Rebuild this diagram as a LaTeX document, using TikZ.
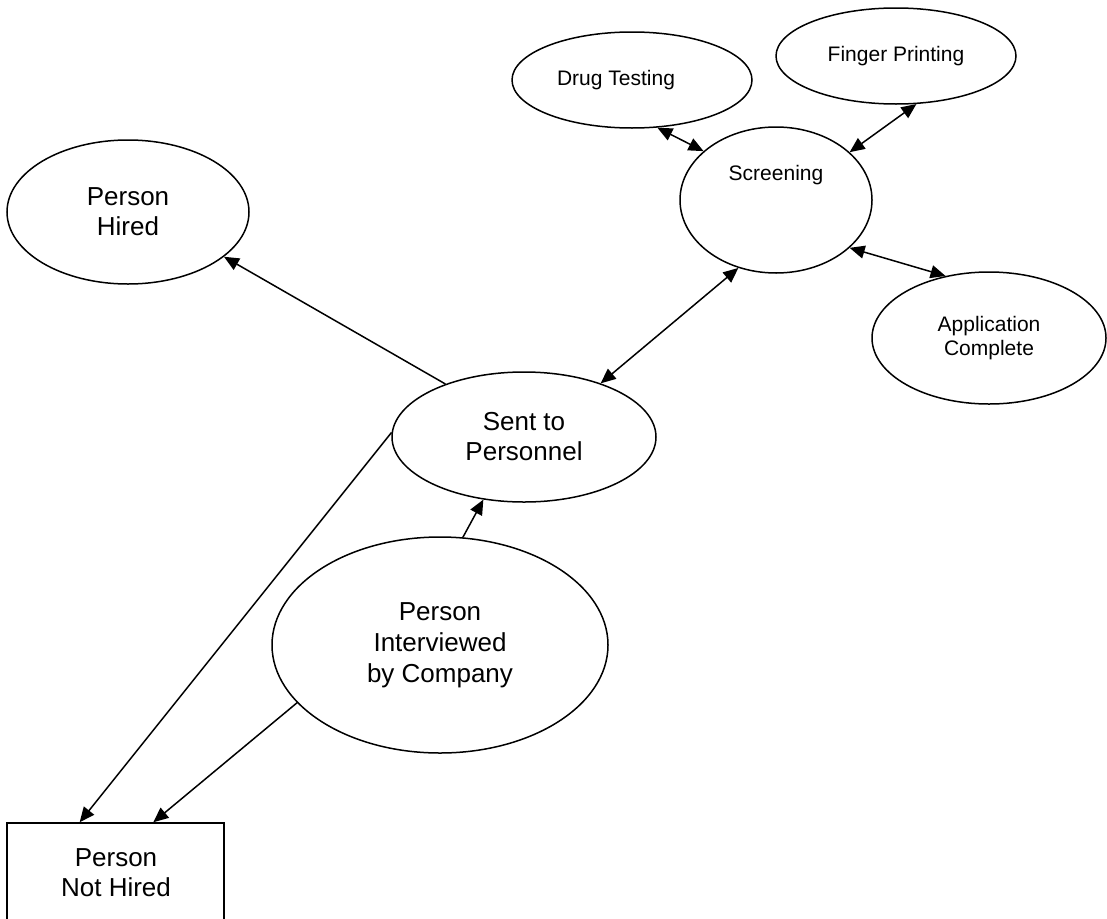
\documentclass[tikz,border=0pt]{standalone}
\usepackage{fontspec}
\setmainfont{Liberation Sans}
\usetikzlibrary{shapes.geometric,arrows.meta,calc}
\begin{document}
\begin{tikzpicture}[x=1pt,y=-1pt,
  oval/.style={draw, ellipse, line width=1.5pt, inner sep=0pt, align=center},
  boxed/.style={draw, rectangle, line width=1.5pt, inner sep=0pt},
  txt/.style={inner sep=0pt, align=center},
  big/.style={font=\fontsize{26}{30}\selectfont},
  small/.style={font=\fontsize{21}{24}\selectfont},
  conn/.style={line width=1.5pt, -{Triangle[length=15pt,width=13pt]}},
  bi/.style={line width=1.5pt, {Triangle[length=15pt,width=13pt]}-{Triangle[length=15pt,width=13pt]}},
]
\useasboundingbox (0,0) rectangle (1107,918);
\clip (0,0) rectangle (1107,918);

% nodes
\node[oval,big,minimum width=242pt,minimum height=144pt] (hired) at (128,212) {Person\\Hired};
\node[oval,minimum width=240pt,minimum height=96pt] (drug) at (632,80) {};
\node[txt,small] (drugt) at (616,80) {Drug Testing};
\node[oval,small,minimum width=240pt,minimum height=96pt] (finger) at (896,56) {Finger Printing};
\node[oval,minimum width=192pt,minimum height=146pt] (screen) at (776,200) {};
\node[txt,small] (screent) at (776,175) {Screening};
\node[oval,small,minimum width=234pt,minimum height=132pt] (app) at (989,338) {Application\\Complete};
\node[oval,big,minimum width=264pt,minimum height=130pt] (sent) at (524,437) {Sent to\\Personnel};
\node[oval,font=\fontsize{26}{31}\selectfont,minimum width=336pt,minimum height=216pt] (interv) at (440,645) {Person\\Interviewed\\by Company};
\node[boxed,minimum width=217pt,minimum height=137pt] (nothired) at (115.5,891.5) {};
\node[txt,big] (nothiredt) at (116,873) {Person\\Not Hired};

% connectors
\draw[conn] (sent.146.8) -- (hired.-25.4);
\draw[bi] (sent.35.4) -- (screen.241.7);
\draw[bi] (drug.-62.5) -- (screen.146.7);
\draw[bi] (finger.-67.2) -- (screen.33.7);
\draw[bi] (screen.-33.7) -- (app.125.9);
\draw[conn] (interv.78) -- (sent.237.5);
\draw[conn] (sent.178) -- ($(nothired.north west)!0.336!(nothired.north east)$);
\draw[conn] (interv.202.1) -- ($(nothired.north west)!0.673!(nothired.north east)$);
\end{tikzpicture}
\end{document}
